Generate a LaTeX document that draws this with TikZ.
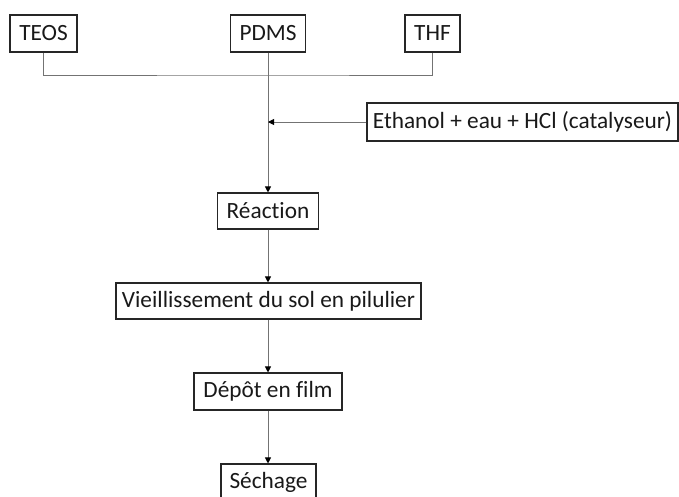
\documentclass[tikz,border=0pt]{standalone}
\usepackage{fontspec}
\setmainfont{Carlito}[Ligatures=NoCommon]
\usetikzlibrary{arrows.meta}
\begin{document}
\begin{tikzpicture}[x=1pt,y=-1pt,
  box/.style={draw=black!85,line width=1.1pt,inner sep=0pt,font=\fontsize{23.3}{25}\selectfont,text=black!90},
  link/.style={draw=black!55,line width=0.9pt},
  arr/.style={link,-{Triangle[length=6pt,width=6pt,color=black]}}]
\useasboundingbox (0,0) rectangle (679,496);
\node[box,minimum width=67pt,minimum height=37pt] (teos) at (43.5,33.5) {TEOS};
\node[box,minimum width=75pt,minimum height=37pt] (pdms) at (268,33.5) {PDMS};
\node[box,minimum width=55pt,minimum height=37pt] (thf) at (432.5,33.5) {THF};
\node[box,minimum width=311pt,minimum height=38pt] (eth) at (522.5,122) {Ethanol + eau + HCl (catalyseur)};
\node[box,minimum width=101pt,minimum height=36pt] (reac) at (268,211) {Réaction};
\node[box,minimum width=305pt,minimum height=36pt] (vieil) at (268.5,301) {Vieillissement du sol en pilulier};
\node[box,minimum width=148pt,minimum height=37pt] (depot) at (268,391.5) {Dépôt en film};
\node[box,minimum width=95pt,minimum height=36pt] (sech) at (268.5,482) {Séchage};
\coordinate (j) at (268,75);
\coordinate (m) at (268,122);
\draw[link] (teos.south) |- (j) -| (thf.south);
\draw[arr] (pdms.south) -- (reac.north);
\draw[arr] (eth.west) -- (m);
\draw[arr] (reac.south) -- (reac.south |- vieil.north);
\draw[arr] (reac.south |- vieil.south) -- (depot.north);
\draw[arr] (depot.south) -- (depot.south |- sech.north);
\end{tikzpicture}
\end{document}
